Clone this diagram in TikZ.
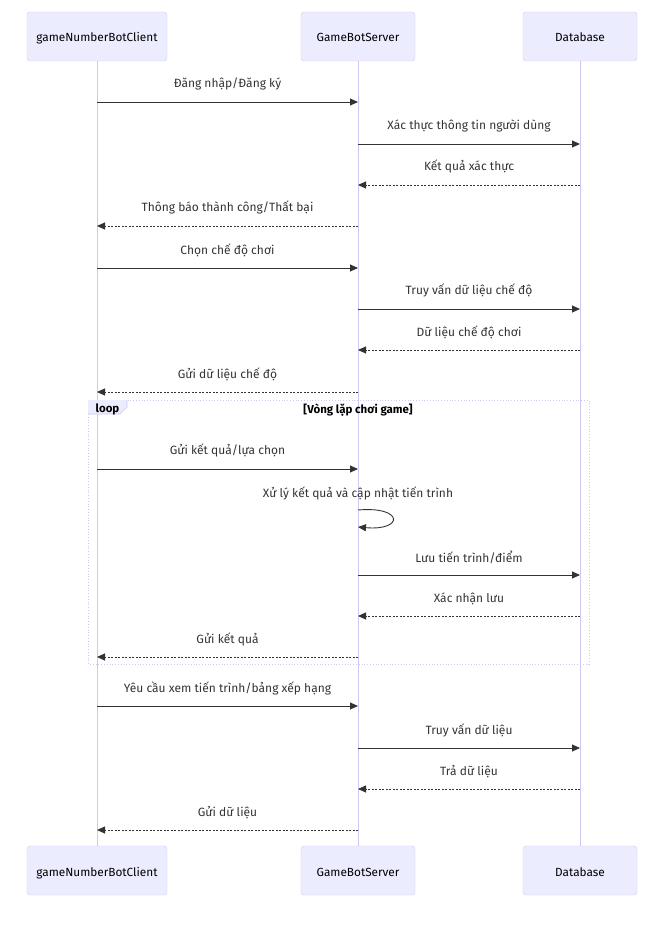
\documentclass[tikz,border=0pt]{standalone}
\usepackage{fontspec}
\setmainfont{Fira Sans}
\usetikzlibrary{arrows.meta}
\definecolor{actfill}{HTML}{ECECFF}
\definecolor{actline}{HTML}{D3C6F2}
\definecolor{txt}{HTML}{333333}
\tikzset{
  actor/.style={draw=actline, fill=actfill, rounded corners=3pt, minimum height=49pt, inner sep=0pt, font=\fontsize{11.8}{13}\selectfont, text=black, text height=11pt, text depth=0pt},
  lifeline/.style={draw=actline, line width=0.8pt},
  msg/.style={draw=txt, line width=0.9pt, -{Triangle[length=8pt,width=7pt]}},
  reply/.style={msg, dash pattern=on 2pt off 1.5pt},
  lbl/.style={font=\fontsize{12}{14}\selectfont, text=txt, inner sep=0pt},
  loopbox/.style={draw=actline, dotted, line width=0.8pt},
}
\begin{document}
\begin{tikzpicture}[x=1pt,y=-1pt]
\useasboundingbox (0,0) rectangle (660,928);
% actors top
\node[actor, minimum width=140pt] (c1) at (97,36.5) {gameNumberBotClient};
\node[actor, minimum width=114pt] (s1) at (358,36.5) {GameBotServer};
\node[actor, minimum width=114pt] (d1) at (580,36.5) {Database};
% actors bottom
\node[actor, minimum width=140pt] (c2) at (97,870.5) {gameNumberBotClient};
\node[actor, minimum width=114pt] (s2) at (358,870.5) {GameBotServer};
\node[actor, minimum width=114pt] (d2) at (580,870.5) {Database};
% lifelines
\draw[lifeline] (c1.south) -- (c2.north);
\draw[lifeline] (s1.south) -- (s2.north);
\draw[lifeline] (d1.south) -- (d2.north);
% loop frame
\draw[loopbox] (88,400) rectangle (589,664);
\fill[actfill] (88,400) -- (127,400) -- (127,407) -- (120,414) -- (88,414) -- cycle;
\draw[actline, line width=0.6pt] (88,414) -- (120,414) -- (127,407) -- (127,400);
\node[lbl, text=black, font=\fontsize{11.5}{13}\selectfont\bfseries] (looplbl) at (107.5,409) {loop};
\node[lbl, text=black, font=\fontsize{11.5}{13}\selectfont\bfseries] (loopcond) at (358,410) {[Vòng lặp chơi game]};
% helper coordinates
\foreach \n/\y in {1/102,2/144,3/185,4/226,5/268,6/309,7/350,8/392,9/469,11/575,12/616,13/657,14/706,15/748,16/789,17/830}{
  \coordinate (c\n) at (97,\y);
  \coordinate (s\n) at (358,\y);
  \coordinate (d\n) at (580,\y);
}
% messages
\draw[msg] (c1) -- (s1) node[lbl, midway, above=11pt] {Đăng nhập/Đăng ký};
\draw[msg] (s2) -- (d2) node[lbl, midway, above=11pt] {Xác thực thông tin người dùng};
\draw[reply] (d3) -- (s3) node[lbl, midway, above=11pt] {Kết quả xác thực};
\draw[reply] (s4) -- (c4) node[lbl, midway, above=11pt] {Thông báo thành công/Thất bại};
\draw[msg] (c5) -- (s5) node[lbl, midway, above=11pt] {Chọn chế độ chơi};
\draw[msg] (s6) -- (d6) node[lbl, midway, above=11pt] {Truy vấn dữ liệu chế độ};
\draw[reply] (d7) -- (s7) node[lbl, midway, above=11pt] {Dữ liệu chế độ chơi};
\draw[reply] (s8) -- (c8) node[lbl, midway, above=11pt] {Gửi dữ liệu chế độ};
\draw[msg] (c9) -- (s9) node[lbl, midway, above=11pt] {Gửi kết quả/lựa chọn};
% self message
\coordinate (sa) at (358,510);
\coordinate (sb) at (358,527);
\node[lbl] (selflbl) at (358,493) {Xử lý kết quả và cập nhật tiến trình};
\draw[msg] (sa) .. controls (404,506) and (404,531) .. (sb);
\draw[msg] (s11) -- (d11) node[lbl, midway, above=11pt] {Lưu tiến trình/điểm};
\draw[reply] (d12) -- (s12) node[lbl, midway, above=11pt] {Xác nhận lưu};
\draw[reply] (s13) -- (c13) node[lbl, midway, above=11pt] {Gửi kết quả};
\draw[msg] (c14) -- (s14) node[lbl, midway, above=11pt] {Yêu cầu xem tiến trình/bảng xếp hạng};
\draw[msg] (s15) -- (d15) node[lbl, midway, above=11pt] {Truy vấn dữ liệu};
\draw[reply] (d16) -- (s16) node[lbl, midway, above=11pt] {Trả dữ liệu};
\draw[reply] (s17) -- (c17) node[lbl, midway, above=11pt] {Gửi dữ liệu};
\end{tikzpicture}
\end{document}
